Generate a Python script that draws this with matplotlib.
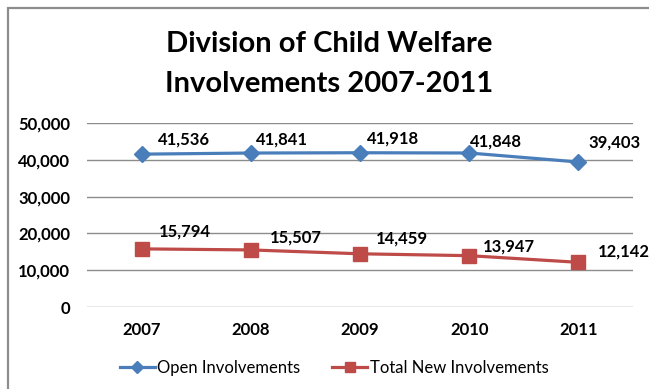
import matplotlib.pyplot as plt
from matplotlib.patches import Rectangle
from matplotlib.lines import Line2D

years = ["2007", "2008", "2009", "2010", "2011"]
open_involvements = [41536, 41841, 41918, 41848, 39403]
new_involvements = [15794, 15507, 14459, 13947, 12142]
y_ticks = [0, 10000, 20000, 30000, 40000, 50000]

# label placement (pixel offsets from each point)
open_label_offsets = [(16, 15), (5, 14), (7, 14), (1, 11), (10, 19)]
new_label_offsets = [(17, 17), (19, 12), (16, 15), (14, 9), (19, 11)]

plt.rcParams['font.family'] = ['Lato', 'DejaVu Sans']

W, H = 649, 389
fig = plt.figure(figsize=(W / 100, H / 100), dpi=100)

# chart frame
fig.patches.append(Rectangle((8 / W, -0.1), 1.2, (H - 8) / H + 0.1,
                             transform=fig.transFigure, fill=False,
                             edgecolor='#8c8c8c', linewidth=1.6))

ax = fig.add_axes([87 / W, 1 - 307 / H, (633 - 87) / W, (307 - 123) / H])
x = list(range(len(years)))

blue = '#4a7ebb'
red = '#be4b48'
ax.plot(x, open_involvements, color=blue, linewidth=2.3, marker='D',
        markersize=8.5, markeredgecolor=blue, zorder=3)
ax.plot(x, new_involvements, color=red, linewidth=2.3, marker='s',
        markersize=10, markeredgecolor=red, zorder=3)

for xi, v, off in zip(x, open_involvements, open_label_offsets):
    ax.annotate(f"{v:,}", (xi, v), xytext=off, textcoords='offset pixels',
                fontsize=12, fontweight='bold', ha='left', va='center')
for xi, v, off in zip(x, new_involvements, new_label_offsets):
    ax.annotate(f"{v:,}", (xi, v), xytext=off, textcoords='offset pixels',
                fontsize=12, fontweight='bold', ha='left', va='center')

ax.set_xlim(-0.5, len(years) - 0.5)
ax.set_ylim(0, 50000)
ax.set_yticks(y_ticks)
ax.set_yticklabels([f"{t:,}" for t in y_ticks], fontsize=12, fontweight='bold')
ax.set_xticks(x)
ax.set_xticklabels(years, fontsize=12, fontweight='bold')
ax.tick_params(length=0)
ax.tick_params(axis='x', pad=11)
ax.tick_params(axis='y', pad=12)
ax.grid(axis='y', color='#8c8c8c', linewidth=1)
ax.set_axisbelow(True)
for s in ax.spines.values():
    s.set_visible(False)

fig.text(329 / W, 1 - 52 / H, "Division of Child Welfare", ha='center', va='baseline',
         fontsize=21, fontweight='bold')
fig.text(329 / W, 1 - 92 / H, "Involvements 2007-2011", ha='center', va='baseline',
         fontsize=21, fontweight='bold')

handles = [Line2D([0], [0], color=blue, lw=2.3, marker='D', markersize=6),
           Line2D([0], [0], color=red, lw=2.3, marker='s', markersize=7)]
fig.legend(handles, ['Open Involvements', 'Total New Involvements'],
           loc='center', bbox_to_anchor=(334 / W, 1 - 368 / H), ncol=2, frameon=False,
           prop={'size': 12}, handlelength=2.1, handletextpad=0.15, columnspacing=1.9)

fig.savefig('out.png', dpi=100)
